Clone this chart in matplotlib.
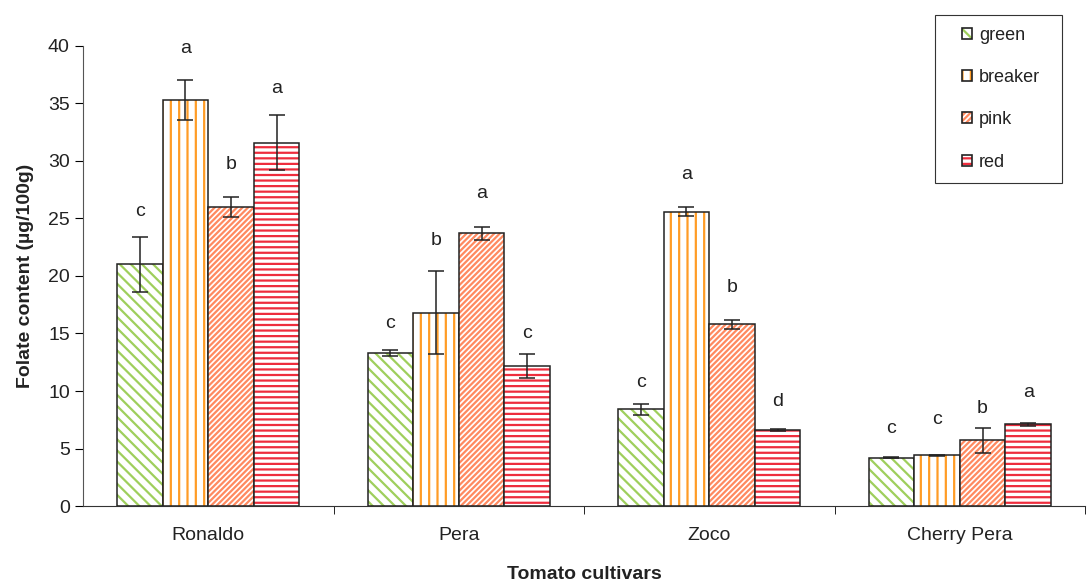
import matplotlib.pyplot as plt
from matplotlib.patches import Patch, Rectangle
from matplotlib.legend_handler import HandlerTuple
import numpy as np

plt.rcParams['font.family'] = ['Liberation Sans', 'DejaVu Sans']
plt.rcParams['hatch.linewidth'] = 1.6

# datos
cultivares = ['Ronaldo', 'Pera', 'Zoco', 'Cherry Pera']
estados = ['green', 'breaker', 'pink', 'red']
folato = {
    'green':   [21.0, 13.3, 8.4, 4.2],
    'breaker': [35.3, 16.8, 25.6, 4.4],
    'pink':    [26.0, 23.7, 15.8, 5.7],
    'red':     [31.6, 12.2, 6.6, 7.1],
}
errores = {
    'green':   [2.4, 0.25, 0.45, 0.05],
    'breaker': [1.7, 3.6, 0.4, 0.05],
    'pink':    [0.85, 0.6, 0.4, 1.05],
    'red':     [2.4, 1.05, 0.1, 0.15],
}
letras = {
    'green':   ['c', 'c', 'c', 'c'],
    'breaker': ['a', 'b', 'a', 'c'],
    'pink':    ['b', 'a', 'b', 'b'],
    'red':     ['a', 'c', 'd', 'a'],
}
# altura de las letras de significancia
altura_letras = {
    'green':   [25.6, 15.9, 10.7, 6.7],
    'breaker': [39.8, 23.1, 28.8, 7.5],
    'pink':    [29.7, 27.2, 19.0, 8.5],
    'red':     [36.3, 15.0, 9.1, 9.9],
}

colores = {'green': '#9fcf5c', 'breaker': '#ff9c26', 'pink': '#ff8a60', 'red': '#ee2d3d'}
tramas = {'green': '\\\\\\', 'breaker': '||', 'pink': '//////', 'red': '---'}

fig = plt.figure(figsize=(10.88, 5.81), dpi=100)
ax = fig.add_axes([0.0763, 0.129, 0.921, 0.792])

x = np.arange(len(cultivares))
ancho = 0.182
for j, est in enumerate(estados):
    pos = x + (j - 1.5) * ancho
    # trama de color
    ax.bar(pos, folato[est], ancho, color='white', edgecolor=colores[est],
           hatch=tramas[est], linewidth=0)
    # borde negro
    ax.bar(pos, folato[est], ancho, fill=False, edgecolor='#222222', linewidth=1.1,
           yerr=errores[est], capsize=6,
           error_kw=dict(elinewidth=1.1, capthick=1.1, ecolor='#222222'))
    for k in range(len(cultivares)):
        ax.text(pos[k], altura_letras[est][k], letras[est][k],
                ha='center', va='center', fontsize=14, color='#222222')

ax.set_xlim(-0.5, 3.5)
ax.set_ylim(0, 40)
ax.set_yticks(range(0, 41, 5))
ax.set_xticks(x)
ax.set_xticklabels(cultivares)
ax.set_xticks([0.5, 1.5, 2.5, 3.5], minor=True)
ax.tick_params(axis='x', which='major', length=0, pad=15, labelsize=14, labelcolor='#222222')
ax.tick_params(axis='x', which='minor', length=6, direction='out')
ax.tick_params(axis='y', length=6, labelsize=14, labelcolor='#222222')
ax.spines['top'].set_visible(False)
ax.spines['right'].set_visible(False)
ax.spines['left'].set_color('#555555')
ax.spines['bottom'].set_color('#333333')
ax.set_ylabel('Folate content (µg/100g)', fontsize=14, fontweight='bold', labelpad=10,
              color='#222222')
ax.set_xlabel('Tomato cultivars', fontsize=14, fontweight='bold', labelpad=16,
              color='#222222')

# leyenda: trama de color + borde negro, con caja aparte
manejadores = [(Patch(facecolor='white', edgecolor=colores[e], hatch=tramas[e], linewidth=0),
                Patch(fill=False, edgecolor='#222222', linewidth=1.2))
               for e in estados]
leg = fig.legend(manejadores, estados, handler_map={tuple: HandlerTuple(ndivide=1, pad=0)},
                 loc='upper left', bbox_to_anchor=(0.884, 0.954),
                 bbox_transform=fig.transFigure, borderaxespad=0, borderpad=0,
                 frameon=False, fontsize=13, handlelength=0.55, handleheight=0.55,
                 labelspacing=1.4, handletextpad=0.4)
for t in leg.get_texts():
    t.set_color('#222222')
fig.patches.append(Rectangle((0.8594, 0.685), 0.1167, 0.2892, transform=fig.transFigure,
                             fill=False, edgecolor='#333333', linewidth=0.8))

fig.savefig('out.png', dpi=100)
